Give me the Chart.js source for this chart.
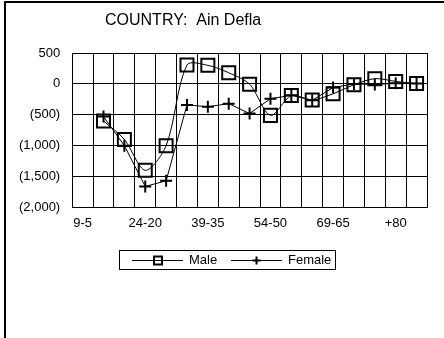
<!DOCTYPE html>
<html>
<head>
<meta charset="utf-8">
<script src="https://cdn.jsdelivr.net/npm/chart.js@4"></script>
<style>
  body { margin: 0; background: #fff; }
  #wrap { position: relative; width: 444px; height: 338px; }
  #frame { position: absolute; left: 4px; top: 1px; right: 0; bottom: 0;
           border-left: 2px solid #000; border-top: 2px solid #000; pointer-events: none; }
</style>
</head>
<body>
<div id="wrap">
  <canvas id="chart" width="444" height="338"></canvas>
  <div id="frame"></div>
</div>
<script>
'use strict';

const ageGroups = ['9-5', '14-10', '19-15', '24-20', '29-25', '34-30', '39-35', '44-40',
  '49-45', '54-50', '59-55', '64-60', '69-65', '74-70', '79-75', '+80', ''];
const male = [null, -600, -900, -1400, -1000, 305, 300, 180, -5, -510, -190, -260, -160, -15, 85, 40, 5];
const female = [null, -530, -1000, -1660, -1570, -340, -370, -320, -480, -240, -185, -265, -60, 0, -10, 10, 5];
const yTicks = [-2000, -1500, -1000, -500, 0, 500];

const FONT = 'Liberation Sans, Arial, sans-serif';

function money(v) {
  const s = Math.abs(v).toLocaleString('en-US');
  return v < 0 ? '(' + s + ')' : s;
}

// title + boxed legend, drawn like the old spreadsheet chart
const decor = {
  id: 'decor',
  afterDraw(chart) {
    const ctx = chart.ctx;
    ctx.save();
    ctx.fillStyle = '#000';
    ctx.strokeStyle = '#000';
    ctx.textBaseline = 'middle';
    ctx.font = '16px ' + FONT;
    ctx.fillText('COUNTRY:  Ain Defla', 105, 21);

    ctx.lineWidth = 1;
    ctx.strokeRect(119.5, 250.5, 216, 19);
    const ly = 260.5;
    ctx.font = '13px ' + FONT;

    // Male
    ctx.beginPath(); ctx.moveTo(132, ly); ctx.lineTo(183, ly); ctx.stroke();
    ctx.lineWidth = 2;
    ctx.strokeRect(154, ly - 4, 8, 8);
    ctx.fillText('Male', 189, ly);

    // Female
    ctx.lineWidth = 1;
    ctx.beginPath(); ctx.moveTo(231, ly); ctx.lineTo(282, ly); ctx.stroke();
    ctx.lineWidth = 2;
    ctx.beginPath();
    ctx.moveTo(256.5, ly - 4); ctx.lineTo(256.5, ly + 4);
    ctx.moveTo(252.5, ly); ctx.lineTo(260.5, ly);
    ctx.stroke();
    ctx.fillText('Female', 288, ly);
    ctx.restore();
  }
};

new Chart(document.getElementById('chart'), {
  type: 'line',
  data: {
    labels: ageGroups,
    datasets: [{
      label: 'Male',
      data: male,
      borderColor: '#000',
      borderWidth: 1,
      tension: 0.3,
      pointStyle: 'rect',
      pointRadius: 9.2,
      pointBorderWidth: 2,
      pointBorderColor: '#000',
      pointBackgroundColor: 'transparent'
    }, {
      label: 'Female',
      data: female,
      borderColor: '#000',
      borderWidth: 1,
      tension: 0,
      pointStyle: 'cross',
      pointRadius: 6,
      pointBorderWidth: 2,
      pointBorderColor: '#000',
      pointBackgroundColor: 'transparent'
    }]
  },
  options: {
    responsive: false,
    animation: false,
    events: [],
    layout: { padding: { left: 7, right: 17, top: 53, bottom: 99 } },
    plugins: {
      legend: { display: false },
      title: { display: false },
      tooltip: { enabled: false }
    },
    scales: {
      x: {
        offset: true,
        grid: { offset: true, color: '#000', drawTicks: false },
        border: { color: '#000' },
        ticks: {
          autoSkip: false,
          maxRotation: 0,
          padding: 8,
          color: '#000',
          font: { family: FONT, size: 13 },
          callback: (v, i) => (i % 3 === 0 ? ageGroups[i] : '')
        }
      },
      y: {
        min: yTicks[0],
        max: yTicks[yTicks.length - 1],
        afterBuildTicks: axis => { axis.ticks = yTicks.map(v => ({ value: v })); },
        grid: { color: '#000', drawTicks: false },
        border: { color: '#000' },
        ticks: {
          padding: 12,
          color: '#000',
          font: { family: FONT, size: 13 },
          callback: v => money(v)
        }
      }
    }
  },
  plugins: [decor]
});
</script>
</body>
</html>
